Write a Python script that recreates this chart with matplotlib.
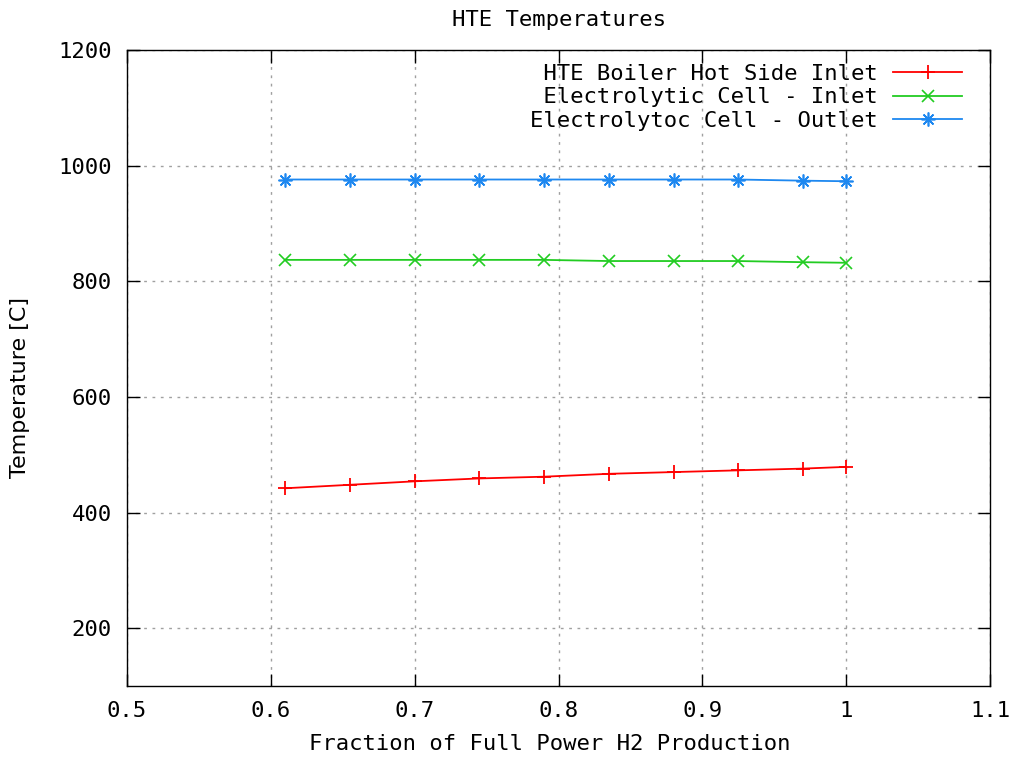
import numpy as np
import matplotlib
matplotlib.use("Agg")
import matplotlib.pyplot as plt

# fraction of full power H2 production
frac = [0.61, 0.655, 0.70, 0.745, 0.79, 0.835, 0.88, 0.925, 0.97, 1.0]

# temperatures [C]
boiler_inlet = [442, 448, 454, 459, 462, 467, 470, 473, 476, 479]
cell_inlet = [837, 837, 837, 837, 837, 835, 835, 835, 833, 832]
cell_outlet = [976, 976, 976, 976, 976, 976, 976, 976, 974, 973]

labels = ["HTE Boiler Hot Side Inlet",
          "Electrolytic Cell - Inlet",
          "Electrolytoc Cell - Outlet"]

xticks = [0.5, 0.6, 0.7, 0.8, 0.9, 1.0, 1.1]
xticklabels = ["0.5", "0.6", "0.7", "0.8", "0.9", "1", "1.1"]
yticks = [200, 400, 600, 800, 1000, 1200]

mono = "DejaVu Sans Mono"
fs = 16

fig = plt.figure(figsize=(10.21, 7.59), dpi=100)
ax = fig.add_axes([127/1021, 1-686/759, (990-127)/1021, (686-50)/759])

w = max(len(s) for s in labels)
ax.plot(frac, boiler_inlet, color='#ff0000', lw=1.3, marker='+', ms=10, mew=1.3,
        label=labels[0].rjust(w))
ax.plot(frac, cell_inlet, color='#22cc22', lw=1.3, marker='x', ms=8, mew=1.2,
        label=labels[1].rjust(w))
ax.plot(frac, cell_outlet, color='#1e88f0', lw=1.3, marker=(8, 2, 0), ms=10, mew=1.2,
        label=labels[2].rjust(w))

ax.set_xlim(0.5, 1.1)
ax.set_ylim(100, 1200)
ax.set_xticks(xticks)
ax.set_xticklabels(xticklabels, fontfamily=mono, fontsize=fs)
ax.set_yticks(yticks)
ax.set_yticklabels([str(v) for v in yticks], fontfamily=mono, fontsize=fs)
ax.tick_params(direction='in', length=9, width=1, top=True, right=True, pad=11)

ax.grid(True, color='#a0a0a0', linestyle=(0, (2, 4)), linewidth=1)
for s in ax.spines.values():
    s.set_linewidth(1)
    s.set_color('black')

ax.set_title("HTE Temperatures", fontfamily=mono, fontsize=fs, pad=17)
ax.set_xlabel("Fraction of Full Power H2 Production", fontfamily=mono, fontsize=fs,
              va='center', ha='center')
ax.set_ylabel("Temperature [C]", fontsize=16, va='center', ha='center')
ax.xaxis.set_label_coords(0.49, -0.0912)
ax.yaxis.set_label_coords(-0.124, 0.47)

leg = ax.legend(loc='upper right', frameon=False, markerfirst=False,
                prop={'family': mono, 'size': fs}, handlelength=3.1,
                labelspacing=0.15, borderpad=0, borderaxespad=0,
                handletextpad=0.68,
                bbox_to_anchor=(1 - 28/863, 1 - 14/636))

fig.savefig("out.png", dpi=100, facecolor='white')
